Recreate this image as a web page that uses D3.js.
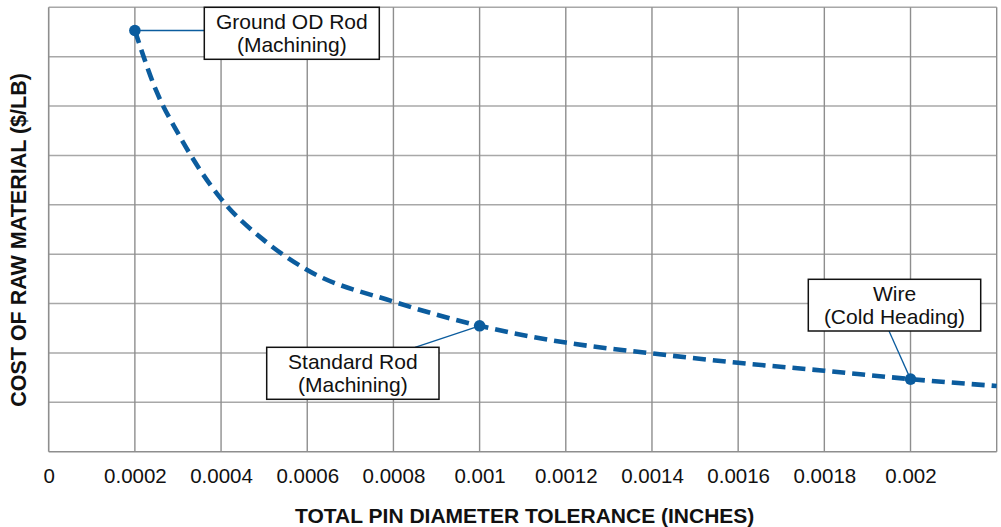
<!DOCTYPE html>
<html>
<head>
<meta charset="utf-8">
<script src="https://cdn.jsdelivr.net/npm/d3@7"></script>
<style>
  body { margin: 0; background: #fff; }
  text { font-family: "Liberation Sans", Arial, sans-serif; fill: #111; }
</style>
</head>
<body>
<script>
// tolerance (inches) and cost ($/lb, unitless grid steps - axis has no labels)
const tolerance = [0.0002, 0.00025, 0.0003, 0.0004, 0.0005, 0.0006, 0.0008, 0.001, 0.0012, 0.0014, 0.0016, 0.0018, 0.002, 0.0022];
const cost = [8.53, 7.3, 6.45, 5.12, 4.28, 3.68, 3.04, 2.55, 2.21, 1.99, 1.8, 1.64, 1.47, 1.33];

const xTicks = [0, 0.0002, 0.0004, 0.0006, 0.0008, 0.001, 0.0012, 0.0014, 0.0016, 0.0018, 0.002];
const xGrid = [0.0002, 0.0004, 0.0006, 0.0008, 0.001, 0.0012, 0.0014, 0.0016, 0.0018, 0.002, 0.0022];
const yGrid = [1, 2, 3, 4, 5, 6, 7, 8, 9];

const markerX = [0.0002, 0.001, 0.002];
const markerY = [8.53, 2.55, 1.47];
const markerLabels = [["Ground OD Rod", "(Machining)"], ["Standard Rod", "(Machining)"], ["Wire", "(Cold Heading)"]];

const width = 1001, height = 527;
const blue = "#0b5c9e";

const svg = d3.select("body").append("svg")
    .attr("width", width)
    .attr("height", height);

const x = d3.scaleLinear().domain([0, 0.0022]).range([48.7, 996.7]);
const y = d3.scaleLinear().domain([0, 9]).range([451.7, 7.3]);

// grid
svg.append("g").selectAll("line").data(yGrid).enter().append("line")
    .attr("x1", x(0)).attr("x2", x(0.0022))
    .attr("y1", d => y(d)).attr("y2", d => y(d))
    .attr("stroke", "#a8a8a8").attr("stroke-width", 1.5);

svg.append("g").selectAll("line").data(xGrid).enter().append("line")
    .attr("x1", d => x(d)).attr("x2", d => x(d))
    .attr("y1", y(0)).attr("y2", y(9))
    .attr("stroke", "#8e8e8e").attr("stroke-width", 1.4);

// axes frame
svg.append("line")
    .attr("x1", x(0)).attr("x2", x(0.0022)).attr("y1", y(0)).attr("y2", y(0))
    .attr("stroke", "#8e8e8e").attr("stroke-width", 1.6);
svg.append("line")
    .attr("x1", x(0)).attr("x2", x(0)).attr("y1", y(0)).attr("y2", y(9))
    .attr("stroke", "#8e8e8e").attr("stroke-width", 1.6);

// x tick labels
const xAxis = d3.axisBottom(x).tickValues(xTicks).tickSize(0).tickPadding(0)
    .tickFormat(d => d === 0 ? "0" : String(+d.toFixed(4)));
const xg = svg.append("g").attr("transform", `translate(0, ${y(0)})`).call(xAxis);
xg.select(".domain").remove();
xg.selectAll("text")
    .attr("y", 31).attr("dy", 0)
    .style("font-size", "20.5px")
    .style("font-family", "'Liberation Sans', Arial, sans-serif")
    .attr("fill", "#111");

// axis titles
svg.append("text")
    .attr("x", (x(0) + x(0.0022)) / 2 + 2).attr("y", 523)
    .attr("text-anchor", "middle")
    .style("font-size", "21px").style("font-weight", "bold")
    .text("TOTAL PIN DIAMETER TOLERANCE (INCHES)");

svg.append("text")
    .attr("transform", "translate(26, 240) rotate(-90)")
    .attr("text-anchor", "middle")
    .style("font-size", "21.5px").style("font-weight", "bold")
    .text("COST OF RAW MATERIAL ($/LB)");

// curve
const pts = tolerance.map((t, i) => [t, cost[i]]);
const line = d3.line().x(d => x(d[0])).y(d => y(d[1])).curve(d3.curveMonotoneX);
svg.append("path")
    .datum(pts)
    .attr("d", line)
    .attr("fill", "none")
    .attr("stroke", blue)
    .attr("stroke-width", 4.6)
    .attr("stroke-dasharray", "13,7");

// annotation boxes (layout only)
const boxes = [
    {x: 204.3, y: 7.3, w: 175, h: 52, lx: 204.3, ly: null},
    {x: 266.7, y: 347.3, w: 172.3, h: 52, lx: 415, ly: 347.3},
    {x: 808.3, y: 279.3, w: 172.4, h: 51.7, lx: 889, ly: 331}
];

markerX.forEach((mx, i) => {
    const b = boxes[i];
    const px = x(mx), py = y(markerY[i]);
    svg.append("line")
        .attr("x1", px).attr("y1", py)
        .attr("x2", b.lx).attr("y2", b.ly === null ? py : b.ly)
        .attr("stroke", blue).attr("stroke-width", 1.3);
    svg.append("rect")
        .attr("x", b.x).attr("y", b.y).attr("width", b.w).attr("height", b.h)
        .attr("fill", "#fff").attr("stroke", "#111").attr("stroke-width", 1.5);
    const t = svg.append("text")
        .attr("text-anchor", "middle")
        .style("font-size", "21px");
    markerLabels[i].forEach((s, j) => {
        t.append("tspan")
            .attr("x", b.x + b.w / 2)
            .attr("y", b.y + 22 + j * 22.5)
            .text(s);
    });
});

// markers
svg.append("g").selectAll("circle")
    .data(markerX).enter().append("circle")
    .attr("cx", d => x(d))
    .attr("cy", (d, i) => y(markerY[i]))
    .attr("r", 5.8)
    .attr("fill", blue);
</script>
</body>
</html>
